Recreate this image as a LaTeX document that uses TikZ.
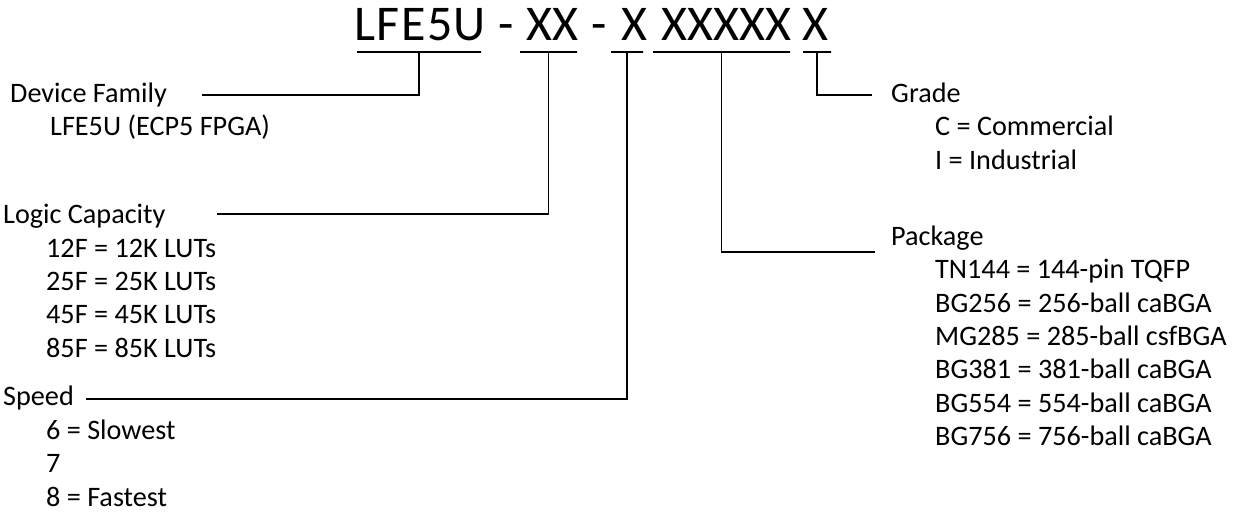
\documentclass[tikz,border=0pt]{standalone}
\usepackage{fontspec}
\setmainfont{Carlito}

\begin{document}
\begin{tikzpicture}[
  x=1pt, y=-1pt,
  code/.style={anchor=base west, inner sep=0pt, font=\fontsize{50}{60}\selectfont},
  head/.style={anchor=base west, inner sep=0pt, font=\fontsize{28.2}{34}\selectfont},
  item/.style={anchor=base west, inner sep=0pt, font=\fontsize{28.2}{34}\selectfont},
  uline/.style={draw, line width=1.2pt, inner sep=0pt, minimum height=0pt},
  lnk/.style={line width=1.2pt, black}
]
  \useasboundingbox (0,0) rectangle (1242,512);

  % part number
  \node[code] (fam)  at (354,40) {\addfontfeature{LetterSpace=3}LFE5U};
  \node[code] (dash1) at (498,40) {-};
  \node[code] (cap)  at (526,40) {XX};
  \node[code] (dash2) at (591,40) {-};
  \node[code] (spd)  at (621,40) {X};
  \node[code] (pkg)  at (661,40) {XXXXX};
  \node[code] (grd)  at (802,40) {X};

  \node[uline, minimum width=124pt] (ufam) at (419,52) {};
  \node[uline, minimum width=57pt]  (ucap) at (548.5,52) {};
  \node[uline, minimum width=32pt]  (uspd) at (627,52) {};
  \node[uline, minimum width=137pt] (upkg) at (721.5,52) {};
  \node[uline, minimum width=28pt]  (ugrd) at (817,52) {};

  % left column
  \node[head] (famhead) at (10,102) {Device Family};
  \node[item] (fam1) at (50,135) {LFE5U (ECP5 FPGA)};

  \node[head] (caphead) at (3,223) {Logic Capacity};
  \node[item] (cap1) at (46,257) {12F = 12K LUTs};
  \node[item] (cap2) at (46,290) {25F = 25K LUTs};
  \node[item] (cap3) at (46,323) {45F = 45K LUTs};
  \node[item] (cap4) at (46,357) {85F = 85K LUTs};

  \node[head] (spdhead) at (3,405) {Speed};
  \node[item] (spd1) at (46,439) {6 = Slowest};
  \node[item] (spd2) at (46,472) {7};
  \node[item] (spd3) at (46,506) {8 = Fastest};

  % right column
  \node[head] (grdhead) at (891,102) {Grade};
  \node[item] (grd1) at (935,135) {C = Commercial};
  \node[item] (grd2) at (935,169) {I = Industrial};

  \node[head] (pkghead) at (891,245) {Package};
  \node[item] (pkg1) at (935,278) {TN144 = 144-pin TQFP};
  \node[item] (pkg2) at (935,312) {BG256 = 256-ball caBGA};
  \node[item] (pkg3) at (935,345) {MG285 = 285-ball csfBGA};
  \node[item] (pkg4) at (935,378) {BG381 = 381-ball caBGA};
  \node[item] (pkg5) at (935,412) {BG554 = 554-ball caBGA};
  \node[item] (pkg6) at (935,445) {BG756 = 756-ball caBGA};

  % leader lines
  \coordinate (famend) at (202,95);
  \coordinate (capend) at (217,214);
  \coordinate (spdend) at (86,399);
  \coordinate (pkgend) at (875,252);
  \coordinate (grdend) at (872,95);

  \draw[lnk] (ufam.south) |- (famend);
  \draw[lnk] (ucap.south) |- (capend);
  \draw[lnk] (uspd.south) |- (spdend);
  \draw[lnk] (upkg.south) |- (pkgend);
  \draw[lnk] (ugrd.south) |- (grdend);

\end{tikzpicture}
\end{document}
